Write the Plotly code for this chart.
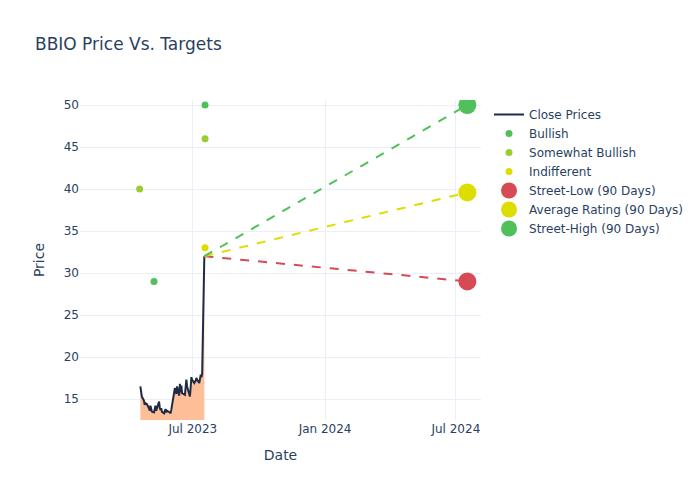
import plotly.graph_objects as go

# Close prices (trading days Apr 19 2023 - Jul 17 2023)
close_dates = [
    "2023-04-19", "2023-04-20", "2023-04-21", "2023-04-24", "2023-04-25", "2023-04-26",
    "2023-04-27", "2023-04-28", "2023-05-01", "2023-05-02", "2023-05-03", "2023-05-04",
    "2023-05-05", "2023-05-08", "2023-05-09", "2023-05-10", "2023-05-11", "2023-05-12",
    "2023-05-15", "2023-05-16", "2023-05-17", "2023-05-18", "2023-05-19", "2023-05-22",
    "2023-05-23", "2023-05-24", "2023-05-25", "2023-05-26", "2023-05-30", "2023-05-31",
    "2023-06-01", "2023-06-02", "2023-06-05", "2023-06-06", "2023-06-07", "2023-06-08",
    "2023-06-09", "2023-06-12", "2023-06-13", "2023-06-14", "2023-06-15", "2023-06-16",
    "2023-06-20", "2023-06-21", "2023-06-22", "2023-06-23", "2023-06-26", "2023-06-27",
    "2023-06-28", "2023-06-29", "2023-06-30", "2023-07-03", "2023-07-05", "2023-07-06",
    "2023-07-07", "2023-07-10", "2023-07-11", "2023-07-12", "2023-07-13", "2023-07-14",
    "2023-07-17",
]
close_prices = [
    16.5, 16.0, 15.3, 14.8, 14.3, 14.5,
    14.4, 14.4, 13.9, 13.6, 14.2, 13.7,
    13.5, 13.4, 14.0, 14.2, 13.6, 13.9,
    14.7, 14.0, 13.7, 13.9, 13.5, 13.3,
    13.5, 13.8, 13.4, 13.6, 13.4, 13.3,
    13.7, 14.3, 15.5, 16.3, 16.0, 15.6,
    16.5, 15.4, 16.8, 15.8, 16.6, 15.7,
    15.5, 16.3, 17.3, 16.5, 15.6, 15.3,
    16.4, 17.6, 17.3, 16.9, 17.2, 17.5,
    17.3, 16.9, 17.4, 17.9, 17.6, 18.0,
    32.0,
]

# Analyst ratings
bullish_dates = ["2023-05-08", "2023-07-18"]
bullish_prices = [29, 50]
somewhat_dates = ["2023-04-18", "2023-07-18"]
somewhat_prices = [40, 46]
indiff_dates = ["2023-07-18"]
indiff_prices = [33]

# 90-day targets
target_date = "2024-07-17"
street_low = 29
street_avg = 39.6
street_high = 50

GREEN = "#4fc05a"
YGREEN = "#9acd32"
YELLOW = "#dddd00"
RED = "#d64a55"

fig = go.Figure()
fig.add_trace(go.Scatter(
    x=close_dates, y=close_prices, mode="none", showlegend=False,
    fill="tozeroy", fillcolor="#fdbe98", hoverinfo="skip",
))
fig.add_trace(go.Scatter(
    x=close_dates, y=close_prices, mode="lines", name="Close Prices",
    line=dict(color="#1f2a44", width=2),
))
fig.add_trace(go.Scatter(x=bullish_dates, y=bullish_prices, mode="markers", name="Bullish",
                         marker=dict(color=GREEN, size=7)))
fig.add_trace(go.Scatter(x=somewhat_dates, y=somewhat_prices, mode="markers", name="Somewhat Bullish",
                         marker=dict(color=YGREEN, size=7)))
fig.add_trace(go.Scatter(x=indiff_dates, y=indiff_prices, mode="markers", name="Indifferent",
                         marker=dict(color=YELLOW, size=7)))

last_date = close_dates[-1]
last_price = close_prices[-1]
for val, color, name in [(street_low, RED, "Street-Low (90 Days)"),
                         (street_avg, YELLOW, "Average Rating (90 Days)"),
                         (street_high, GREEN, "Street-High (90 Days)")]:
    fig.add_trace(go.Scatter(x=[last_date, target_date], y=[last_price, val], mode="lines",
                             line=dict(color=color, width=2, dash="dash"), showlegend=False,
                             hoverinfo="skip"))
    fig.add_trace(go.Scatter(x=[target_date], y=[val], mode="markers", name=name,
                             marker=dict(color=color, size=18)))

W, H = 692, 492
fig.update_layout(
    template="plotly_white",
    width=W, height=H,
    margin=dict(l=72, t=92, b=80, r=80),
    font=dict(family="DejaVu Sans"),
    title=dict(text="BBIO Price Vs. Targets", x=27 / W, xanchor="left",
               y=1 - 36 / H, yanchor="middle"),
    xaxis=dict(title="Date", range=["2023-01-25", "2024-08-05"], dtick="M6", tick0="2023-01-01"),
    yaxis=dict(title="Price", range=[12.5, 50.6], dtick=5),
)
fig.write_html("out.html")
